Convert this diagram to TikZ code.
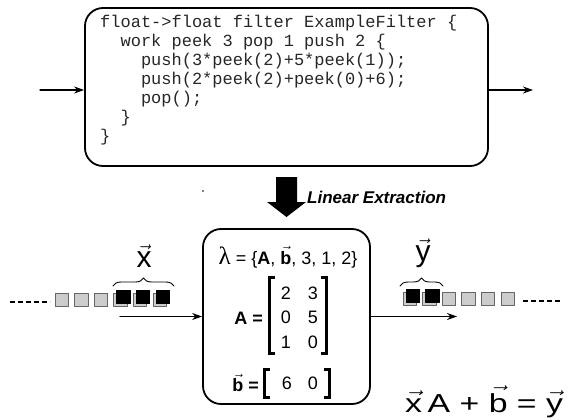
\documentclass[tikz,border=0pt]{standalone}
\usepackage{fontspec}
\setsansfont{Liberation Sans}
\setmonofont{Liberation Mono}
\newfontfamily\greekfont{Liberation Serif}
\usepackage{graphicx}
\usetikzlibrary{positioning,calc,decorations.pathreplacing,arrows.meta}

\newcommand{\vecsym}[1]{$\vec{\mbox{#1}}$}

\begin{document}
\begin{tikzpicture}[
	x=1pt,y=1pt,
	line cap=round,line join=round,
	roundbox/.style={draw=black, line width=1.8pt, rounded corners=18pt, inner sep=0pt},
	flow/.style={-{Stealth[length=10pt,width=7pt]}, line width=1.2pt},
	cell/.style={draw=black!60, fill=black!20, line width=0.9pt},
	hotcell/.style={draw=black, fill=black, line width=0.9pt},
	streamdash/.style={line width=1.6pt, dash pattern=on 5pt off 3pt, line cap=butt},
	bracket/.style={line width=3pt, line cap=butt, line join=miter},
	lab/.style={font=\sffamily\fontsize{18}{21}\selectfont, inner sep=0pt},
	labbf/.style={font=\sffamily\bfseries\fontsize{18}{21}\selectfont, inner sep=0pt},
	brace/.style={decorate, decoration={brace, amplitude=8pt}, line width=0.9pt}
	]
	% ---- parameters
	\def\cw{13.5}
	\def\gap{19.6}
	
	\useasboundingbox (0,0) rectangle (570,-420);
	
	% filter box
	\node[roundbox, minimum width=403pt, minimum height=158pt] (filter) at (286.5,-87) {};
	\node[anchor=north west, inner sep=0pt, align=left, text=black!85,
	font=\ttfamily\fontsize{17}{19}\selectfont] (code) at (100,-14.5) {%
		float->float filter ExampleFilter \{\\
		\hspace*{1.2em}work peek 3 pop 1 push 2 \{\\
		\hspace*{2.4em}push(3*peek(2)+5*peek(1));\\
		\hspace*{2.4em}push(2*peek(2)+peek(0)+6);\\
		\hspace*{2.4em}pop();\\
		\hspace*{1.2em}\}\\
		\}};
	
	% in / out
	\coordinate (topin) at (40,-90);
	\coordinate (topout) at (533,-90);
	\draw[flow] (topin) -- (topin -| filter.west);
	\draw[flow] (topout -| filter.east) -- (topout);
	
	% extraction
	\fill (276,-177) -- (297,-177) -- (297,-202) -- (306,-202) -- (286.5,-217)
	-- (267,-202) -- (276,-202) -- cycle;
	\node[anchor=west, inner sep=0pt,
	font=\sffamily\bfseries\itshape\fontsize{17}{20}\selectfont] (extract) at (307,-197) {Linear Extraction};
	\fill (203,-191) circle (0.8);
	
	% linear node
	\node[roundbox, minimum width=167pt, minimum height=175pt] (linear) at (286.5,-316.5) {};
	\node[lab, anchor=base] (lambda) at (288,-264)
	{{\greekfont\fontsize{25}{25}\selectfont λ} = \{\textbf{A}, \textbf{\vecsym{b}}, 3, 1, 2\}};
	
	% matrix A
	\node[labbf, anchor=east] (Alab) at (263,-318) {A =};
	\foreach \r/\p/\q in {0/2/3,1/0/5,2/1/0}{
		\node[lab] (m\r-1) at (286,{-293-24.5*\r}) {\p};
		\node[lab] (m\r-2) at (313,{-293-24.5*\r}) {\q};
	}
	\draw[bracket] (275,-277) -| (269.5,-353) -- (275,-353);
	\draw[bracket] (321,-277) -| (326.5,-353) -- (321,-353);
	
	% vector b
	\node[labbf, anchor=east] (blab) at (259,-383) {\vecsym{b} =};
	\node[lab] (b1) at (287,-383) {6};
	\node[lab] (b2) at (313,-383) {0};
	\draw[bracket] (269.5,-369) -| (264,-397) -- (269.5,-397);
	\draw[bracket] (324,-369) -| (329.5,-397) -- (324,-397);
	
	% arrows through
	\coordinate (xin) at (120,-316.5);
	\coordinate (yout) at (457,-316.5);
	\draw[flow] (xin) -- (linear.west);
	\draw[flow] (linear.east) -- (yout);
	
	% input stream
	\draw[streamdash] (10,-302) -- (50,-302);
	\foreach \i in {0,...,5}
	\draw[cell] ({55+\gap*\i},-293) rectangle ++(\cw,-\cw);
	\foreach \i in {3,4,5}
	\draw[hotcell] ({58+\gap*\i},-290) rectangle ++(\cw,-\cw);
	\draw[brace] (113,-286) -- (174,-286);
	\node[inner sep=0pt, font=\sffamily\fontsize{30}{32}\selectfont] (xvec) at (144,-256) {\vecsym{x}};
	
	% output stream
	\foreach \i in {0,...,5}
	\draw[cell] ({403+\gap*\i},-292) rectangle ++(\cw,-\cw);
	\foreach \i in {0,1}
	\draw[hotcell] ({406+\gap*\i},-289) rectangle ++(\cw,-\cw);
	\draw[streamdash] (523,-301) -- (562,-301);
	\draw[brace] (400,-286) -- (443,-286);
	\node[inner sep=0pt, font=\sffamily\fontsize{30}{32}\selectfont] (yvec) at (423,-253) {\vecsym{y}};
	
	% equation
	\node[anchor=base west, inner sep=0pt, font=\sffamily\fontsize{26}{28}\selectfont] (eqn) at (405,-412)
	{\scalebox{1.3}[1]{\vecsym{x}\,A + \vecsym{b} = \vecsym{y}}};
\end{tikzpicture}
\end{document}
